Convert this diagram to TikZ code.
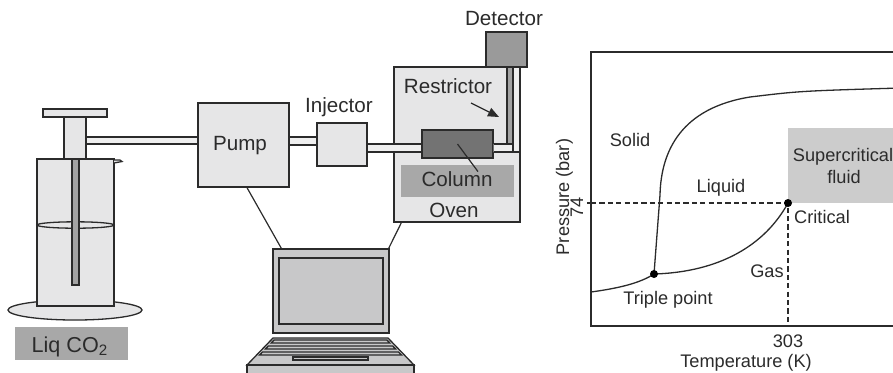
\documentclass[tikz,border=0pt]{standalone}
\usepackage{fontspec}
\setmainfont{Liberation Sans}
\usepackage{tikz}
\usetikzlibrary{calc}
\usetikzlibrary{arrows.meta}
\definecolor{lightgr}{HTML}{E6E6E7}
\definecolor{pipegr}{HTML}{EFEFEF}
\definecolor{midgr}{HTML}{A8A8A8}
\definecolor{darkgr}{HTML}{737373}
\definecolor{detgr}{HTML}{9A9A9A}
\definecolor{rodgr}{HTML}{A3A3A3}
\definecolor{lapgr}{HTML}{C8C8C9}
\definecolor{scfgr}{HTML}{CCCCCC}
\definecolor{ink}{HTML}{2B2B2B}
\tikzset{
  part/.style={draw=ink, line width=0.65pt, fill=lightgr, inner sep=0pt},
  pipe/.style={draw=ink, line width=0.65pt, fill=pipegr},
  wire/.style={draw=ink, line width=0.6pt},
  lbl/.style={font=\fontsize{10.3}{12}\selectfont, text=ink, inner sep=0pt, anchor=base},
  plbl/.style={font=\fontsize{9.1}{11}\selectfont, text=ink, inner sep=0pt, anchor=base},
}

\begin{document}
\begin{tikzpicture}[x=0.5pt, y=-0.5pt]
\useasboundingbox (0,0) rectangle (893,372);
\clip (0,0) rectangle (893,372);

% CO2 cylinder
\draw[part] (75,310) ellipse [x radius=33.5pt, y radius=5pt];
\draw[part] (37,159) rectangle (114,306);
\draw[part] (114,160) -- (120,160) -- (122,161.5) -- (114,163);
\draw[ink, line width=0.65pt] (75.5,225) ellipse [x radius=19.25pt, y radius=1.6pt];
\draw[part, fill=rodgr] (72,159) rectangle (79,285);
\node[part, minimum width=11pt, minimum height=21pt] (stem) at (75,138) {};
\node[part, minimum width=32pt, minimum height=4pt] (handle) at (75,113) {};
\node[fill=midgr, minimum width=56.5pt, minimum height=16.5pt] (liqbox) at (71.5,343.5) {};
\node[lbl, font=\fontsize{10.8}{12}\selectfont] (liqtxt) at (70,352) {Liq CO\textsubscript{2}};

% pump, injector, oven
\node[part, minimum width=45.5pt, minimum height=42pt] (pump) at (243.5,145) {};
\node[lbl] (pumptxt) at (240,150) {Pump};
\node[part, minimum width=25pt, minimum height=21.5pt] (injector) at (342,144.5) {};
\node[lbl] (injtxt) at (339,112) {Injector};
\node[part, minimum width=63pt, minimum height=77.5pt] (oven) at (457,144.5) {};
\node[part, fill=detgr, minimum width=20.5pt, minimum height=17.5pt] (detector) at (506.5,49.5) {};
\node[lbl] (dettxt) at (504,25) {Detector};
\node[draw=none, fill=midgr, minimum width=56.5pt, minimum height=16pt] (colbox) at (457.5,181) {};
\node[lbl] (coltxt) at (457,186) {Column};
\node[lbl] (oventxt) at (454,217) {Oven};
\node[lbl] (restrtxt) at (448,93) {Restrictor};

\draw[pipe] (stem.east |- 0,137) rectangle (pump.west |- 0,144);
\draw[pipe] (pump.east |- 0,137) rectangle (injector.west |- 0,145);
\draw[pipe] (injector.east |- 0,144) rectangle (422,152);
\node[part, fill=darkgr, minimum width=35.5pt, minimum height=14pt] (column) at (457.5,144) {};
\draw[pipe] (column.east |- 0,144) -- (507,144) -- (507,67) -- (520,67) -- (520,152) -- (column.east |- 0,152);
\draw[pipe] (513,67) -- (513,152);
\draw[part, fill=rodgr] (507,67) rectangle (513,144);

\coordinate (restrtail) at (471,103);
\coordinate (restrictor) at (499,117);
\draw[wire, -{Triangle[length=5.5pt,width=4.5pt]}] (restrtail) -- (restrictor);
\draw[wire] (column.center) -- ($(colbox.north)+(20.5,7)$);

% laptop
\node[part, fill=lapgr, minimum width=58pt, minimum height=42pt] (screen) at (331,291) {};
\node[part, fill=lapgr, minimum width=52pt, minimum height=33pt] (display) at (331,291) {};
\draw[part, fill=lapgr] (273,338) -- (388,338) -- (414,365) -- (247,365) -- cycle;
\draw[part, fill=lapgr] (247,365) rectangle (414,380);
\foreach \y [evaluate=\y as \l using 276-(\y-338)*0.963, evaluate=\y as \r using 385+(\y-338)*0.963] in {340,346,352} {
  \draw[part, fill=lapgr] (\l,\y) -- (\r,\y) -- (\r+2.9,\y+3) -- (\l-2.9,\y+3) -- cycle;
}
\draw[part, fill=lapgr] (293,357) rectangle (368,360);

\draw[wire] ([xshift=1.75pt]pump.south) -- ([xshift=4.5pt]screen.north west);
\draw[wire] ([xshift=4pt]oven.south west) -- ([xshift=-0.5pt]screen.north east);

% phase diagram
\coordinate (triple) at (654,274);
\coordinate (critical) at (788,203);
\fill[scfgr] (788,128) rectangle (900,203);
\draw[ink, line width=0.65pt] (591,52) rectangle (920,326);
\draw[ink, line width=0.65pt] (591,203) -- (587,203);
\draw[ink, line width=0.65pt, dash pattern=on 2.6pt off 1.6pt] (591,203) -- (critical) -- (critical |- 0,326);
\draw[ink, line width=0.65pt] (591,292) .. controls (620,288) and (640,283) .. (triple);
\draw[ink, line width=0.65pt] (triple) .. controls (720,272) and (765,245) .. (critical);
\draw[ink, line width=0.65pt] (triple) -- (660,195) .. controls (661,150) and (682,108) .. (750,97)
  .. controls (800,91) .. (900,88);
\fill[black] (triple) circle [radius=2pt];
\fill[black] (critical) circle [radius=2pt];

\node[plbl] (solid) at (630,146) {Solid};
\node[plbl] (liquid) at (721,192) {Liquid};
\node[plbl] (scf) at (843,161) {Supercritical};
\node[plbl] (fluid) at (844,183) {fluid};
\node[plbl] (crit) at (822,223) {Critical};
\node[plbl] (gas) at (767,277) {Gas};
\node[plbl] (tp) at (668,304) {Triple point};
\node[plbl] (tcrit) at (788,347) {303};
\node[plbl] (xlab) at (746,367) {Temperature (K)};
\node[plbl, rotate=90] (ylab) at (569,197) {Pressure (bar)};
\node[plbl, rotate=90] (pcrit) at (583,207) {74};
\end{tikzpicture}
\end{document}
